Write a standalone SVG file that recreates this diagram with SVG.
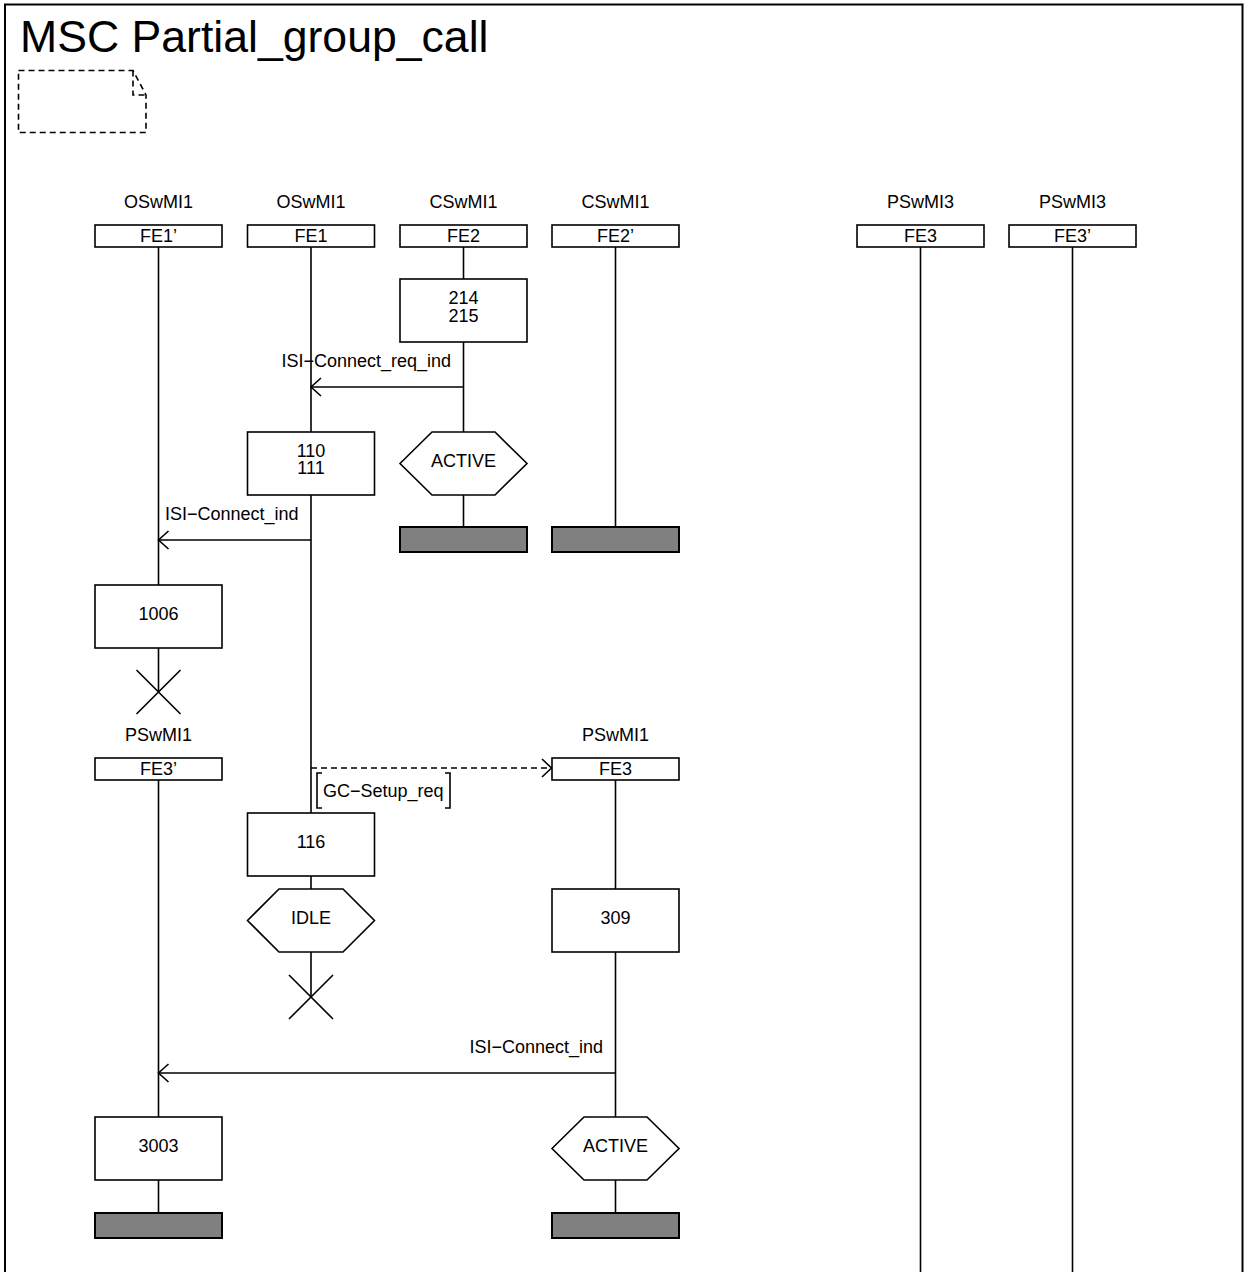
<svg xmlns="http://www.w3.org/2000/svg" width="1245" height="1272" viewBox="0 0 1245 1272">
<style>
text{font-family:"Liberation Sans",Arial,sans-serif;font-size:18px;fill:#000}
.c{text-anchor:middle}
.e{text-anchor:end}
.title{font-size:44.6px}
.box{fill:#fff;stroke:#000;stroke-width:1.6}
.bar{fill:#808080;stroke:#000;stroke-width:2}
.ll{stroke:#000;stroke-width:1.6;fill:none}
.msg{stroke:#000;stroke-width:1.6;fill:none}
.dash{stroke:#000;stroke-width:1.6;fill:none;stroke-dasharray:6,4}
</style>
<defs>
<marker id="open" viewBox="-12 0 12 20" refX="0" refY="10" markerWidth="12" markerHeight="20" markerUnits="userSpaceOnUse" orient="auto" overflow="visible">
<path d="M-10,1 L0,10 L-10,19" fill="none" stroke="#000" stroke-width="1.6"/>
</marker>
</defs>
<rect width="1245" height="1272" fill="#fff"/>
<g id="frame">
<path d="M5,1272 V4.5 H1242.5 V1272" fill="none" stroke="#000" stroke-width="2"/>
<text class="title" x="20" y="52">MSC Partial_group_call</text>
<path class="dash" d="M18.5,70.5 H133 L146,95 V132.5 H18.5 Z"/>
<path class="dash" d="M133,70.5 V95 H146"/>
</g>
<g id="lifelines">
<line class="ll" x1="158.5" y1="247" x2="158.5" y2="585"/>
<line class="ll" x1="158.5" y1="648" x2="158.5" y2="692"/>
<line class="ll" x1="311" y1="247" x2="311" y2="432"/>
<line class="ll" x1="311" y1="495" x2="311" y2="813"/>
<line class="ll" x1="311" y1="876" x2="311" y2="889"/>
<line class="ll" x1="311" y1="952" x2="311" y2="997"/>
<line class="ll" x1="463.5" y1="247" x2="463.5" y2="279"/>
<line class="ll" x1="463.5" y1="342" x2="463.5" y2="432"/>
<line class="ll" x1="463.5" y1="495" x2="463.5" y2="527"/>
<line class="ll" x1="615.5" y1="247" x2="615.5" y2="527"/>
<line class="ll" x1="920.5" y1="247" x2="920.5" y2="1272"/>
<line class="ll" x1="1072.5" y1="247" x2="1072.5" y2="1272"/>
<line class="ll" x1="158.5" y1="780" x2="158.5" y2="1117"/>
<line class="ll" x1="158.5" y1="1180" x2="158.5" y2="1213"/>
<line class="ll" x1="615.5" y1="780" x2="615.5" y2="889"/>
<line class="ll" x1="615.5" y1="952" x2="615.5" y2="1117"/>
<line class="ll" x1="615.5" y1="1180" x2="615.5" y2="1213"/>
</g>
<g id="fe1p_head">
<text class="c" x="158.5" y="208">OSwMI1</text>
<rect class="box" x="95" y="225" width="127" height="22"/>
<text class="c" x="158.5" y="242">FE1’</text>
</g>
<g id="fe1_head">
<text class="c" x="311" y="208">OSwMI1</text>
<rect class="box" x="247.5" y="225" width="127" height="22"/>
<text class="c" x="311" y="242">FE1</text>
</g>
<g id="fe2_head">
<text class="c" x="463.5" y="208">CSwMI1</text>
<rect class="box" x="400" y="225" width="127" height="22"/>
<text class="c" x="463.5" y="242">FE2</text>
</g>
<g id="fe2p_head">
<text class="c" x="615.5" y="208">CSwMI1</text>
<rect class="box" x="552" y="225" width="127" height="22"/>
<text class="c" x="615.5" y="242">FE2’</text>
</g>
<g id="fe3_psw3_head">
<text class="c" x="920.5" y="208">PSwMI3</text>
<rect class="box" x="857" y="225" width="127" height="22"/>
<text class="c" x="920.5" y="242">FE3</text>
</g>
<g id="fe3p_psw3_head">
<text class="c" x="1072.5" y="208">PSwMI3</text>
<rect class="box" x="1009" y="225" width="127" height="22"/>
<text class="c" x="1072.5" y="242">FE3’</text>
</g>
<g id="task_214">
<rect class="box" x="400" y="279" width="127" height="63"/>
<text class="c" x="463.5" y="304">214</text>
<text class="c" x="463.5" y="321.5">215</text>
</g>
<g id="task_110">
<rect class="box" x="247.5" y="432" width="127" height="63"/>
<text class="c" x="311" y="456.5">110</text>
<text class="c" x="311" y="474">111</text>
</g>
<g id="state_active_fe2">
<polygon class="box" points="400,463.5 432,432 495,432 527,463.5 495,495 432,495"/>
<text class="c" x="463.5" y="466.5">ACTIVE</text>
</g>
<g id="stop_fe2">
<rect class="bar" x="400" y="527" width="127" height="25"/>
</g>
<g id="stop_fe2p">
<rect class="bar" x="552" y="527" width="127" height="25"/>
</g>
<g id="task_1006">
<rect class="box" x="95" y="585" width="127" height="63"/>
<text class="c" x="158.5" y="619.5">1006</text>
</g>
<g id="stop_x_fe1p">
<path class="ll" d="M136.5,670 L180.5,714 M180.5,670 L136.5,714"/>
</g>
<g id="fe3p_head">
<text class="c" x="158.5" y="741">PSwMI1</text>
<rect class="box" x="95" y="758" width="127" height="22"/>
<text class="c" x="158.5" y="775">FE3’</text>
</g>
<g id="fe3_head">
<text class="c" x="615.5" y="741">PSwMI1</text>
<rect class="box" x="552" y="758" width="127" height="22"/>
<text class="c" x="615.5" y="775">FE3</text>
</g>
<g id="task_116">
<rect class="box" x="247.5" y="813" width="127" height="63"/>
<text class="c" x="311" y="847.5">116</text>
</g>
<g id="state_idle">
<polygon class="box" points="247.5,920.5 279,889 343,889 374.5,920.5 343,952 279,952"/>
<text class="c" x="311" y="923.5">IDLE</text>
</g>
<g id="stop_x_fe1">
<path class="ll" d="M289,975 L333,1019 M333,975 L289,1019"/>
</g>
<g id="task_309">
<rect class="box" x="552" y="889" width="127" height="63"/>
<text class="c" x="615.5" y="923.5">309</text>
</g>
<g id="task_3003">
<rect class="box" x="95" y="1117" width="127" height="63"/>
<text class="c" x="158.5" y="1151.5">3003</text>
</g>
<g id="state_active_fe3">
<polygon class="box" points="552,1148.5 584,1117 647,1117 679,1148.5 647,1180 584,1180"/>
<text class="c" x="615.5" y="1151.5">ACTIVE</text>
</g>
<g id="stop_fe3p">
<rect class="bar" x="95" y="1213" width="127" height="25"/>
</g>
<g id="stop_fe3">
<rect class="bar" x="552" y="1213" width="127" height="25"/>
</g>
<g id="connectors">
<line class="msg" x1="463.5" y1="387" x2="311" y2="387" marker-end="url(#open)"/>
<text class="e" x="451" y="367">ISI−Connect_req_ind</text>
<line class="msg" x1="311" y1="540" x2="158.5" y2="540" marker-end="url(#open)"/>
<text class="e" x="298.5" y="520">ISI−Connect_ind</text>
<line class="dash" x1="311" y1="768" x2="552" y2="768"/>
<path class="msg" d="M542,759 L551.5,768 L542,777"/>
<path class="msg" d="M322,773 H317 V808 H322 M445,773 H450 V808 H445"/>
<text x="323" y="797">GC−Setup_req</text>
<line class="msg" x1="615.5" y1="1073" x2="158.5" y2="1073" marker-end="url(#open)"/>
<text class="e" x="603" y="1053">ISI−Connect_ind</text>
</g>
</svg>
